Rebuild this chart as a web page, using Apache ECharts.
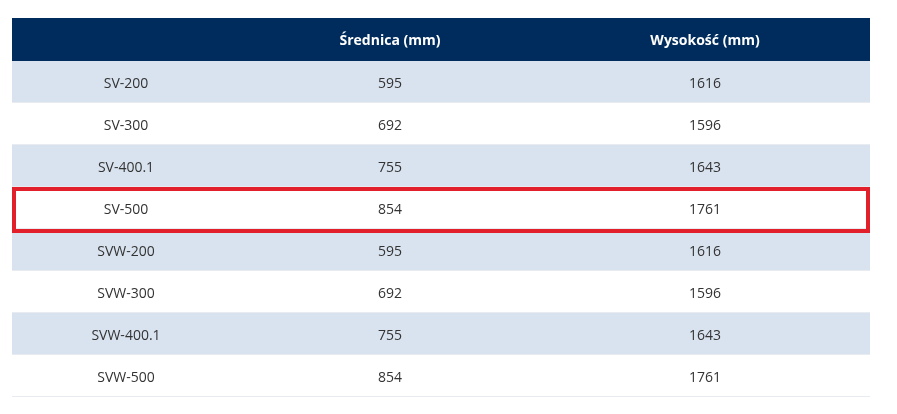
<!DOCTYPE html>
<html><head><meta charset="utf-8">
<script src="https://cdn.jsdelivr.net/npm/echarts@6/dist/echarts.min.js"></script>
<style>html,body{margin:0;background:#fff}#c{width:897px;height:414px}</style>
</head><body><div id="c"></div>
<script>
var headers = ['', 'Średnica (mm)', 'Wysokość (mm)'];
var models = ['SV-200','SV-300','SV-400.1','SV-500','SVW-200','SVW-300','SVW-400.1','SVW-500'];
var diameters = [595,692,755,854,595,692,755,854];
var heights = [1616,1596,1643,1761,1616,1596,1643,1761];
var highlightRow = 3;

var colEdges = [0, 228, 528, 858];
var headerH = 43, rowH = 42;
var total = headerH + rowH * models.length;

var cells = [];
for (var c = 0; c < 3; c++) cells.push([c, -1, headers[c]]);
models.forEach(function(m, i){
  cells.push([0, i, m]); cells.push([1, i, String(diameters[i])]); cells.push([2, i, String(heights[i])]);
});

function rowTop(r){ return r < 0 ? 0 : headerH + r*rowH; }
function rowHt(r){ return r < 0 ? headerH : rowH; }

var chart = echarts.init(document.getElementById('c'));
chart.setOption({
  animation:false,
  grid:{left:12,right:27,top:18,bottom:17},
  xAxis:{type:'value',min:0,max:858,show:false},
  yAxis:{type:'value',min:0,max:total,inverse:true,show:false},
  series:[{
    type:'custom',
    data:cells,
    renderItem:function(params, api){
      var c = api.value(0), r = api.value(1), txt = cells[params.dataIndex][2];
      var p0 = api.coord([colEdges[c], rowTop(r)]);
      var p1 = api.coord([colEdges[c+1], rowTop(r)+rowHt(r)]);
      var fill = r < 0 ? '#002c5d' : (r % 2 === 0 ? '#d9e3ef' : '#ffffff');
      var children = [
        {type:'rect',shape:{x:p0[0],y:p0[1],width:p1[0]-p0[0],height:p1[1]-p0[1]},style:{fill:fill}},
        {type:'rect',shape:{x:p0[0],y:p1[1]-1,width:p1[0]-p0[0],height:1},style:{fill:r<0?'#002c5d':'#e8ecf1'}},
        {type:'text',style:{text:txt,x:(p0[0]+p1[0])/2,y:(p0[1]+p1[1])/2+2,align:'center',verticalAlign:'middle',
          fill:r<0?'#ffffff':'#333333',font:(r<0?'bold ':'')+'14px "Open Sans"'}}
      ];
      if (r === highlightRow && c === 0) {
        var q1 = api.coord([colEdges[3], rowTop(r)+rowH]);
        children.push({type:'rect',z2:10,shape:{x:p0[0]+2,y:p0[1]+2,width:q1[0]-p0[0]-4,height:q1[1]-p0[1]},
          style:{fill:'none',stroke:'#e2202b',lineWidth:4}});
      }
      return {type:'group',children:children};
    }
  }]
});
</script></body></html>
